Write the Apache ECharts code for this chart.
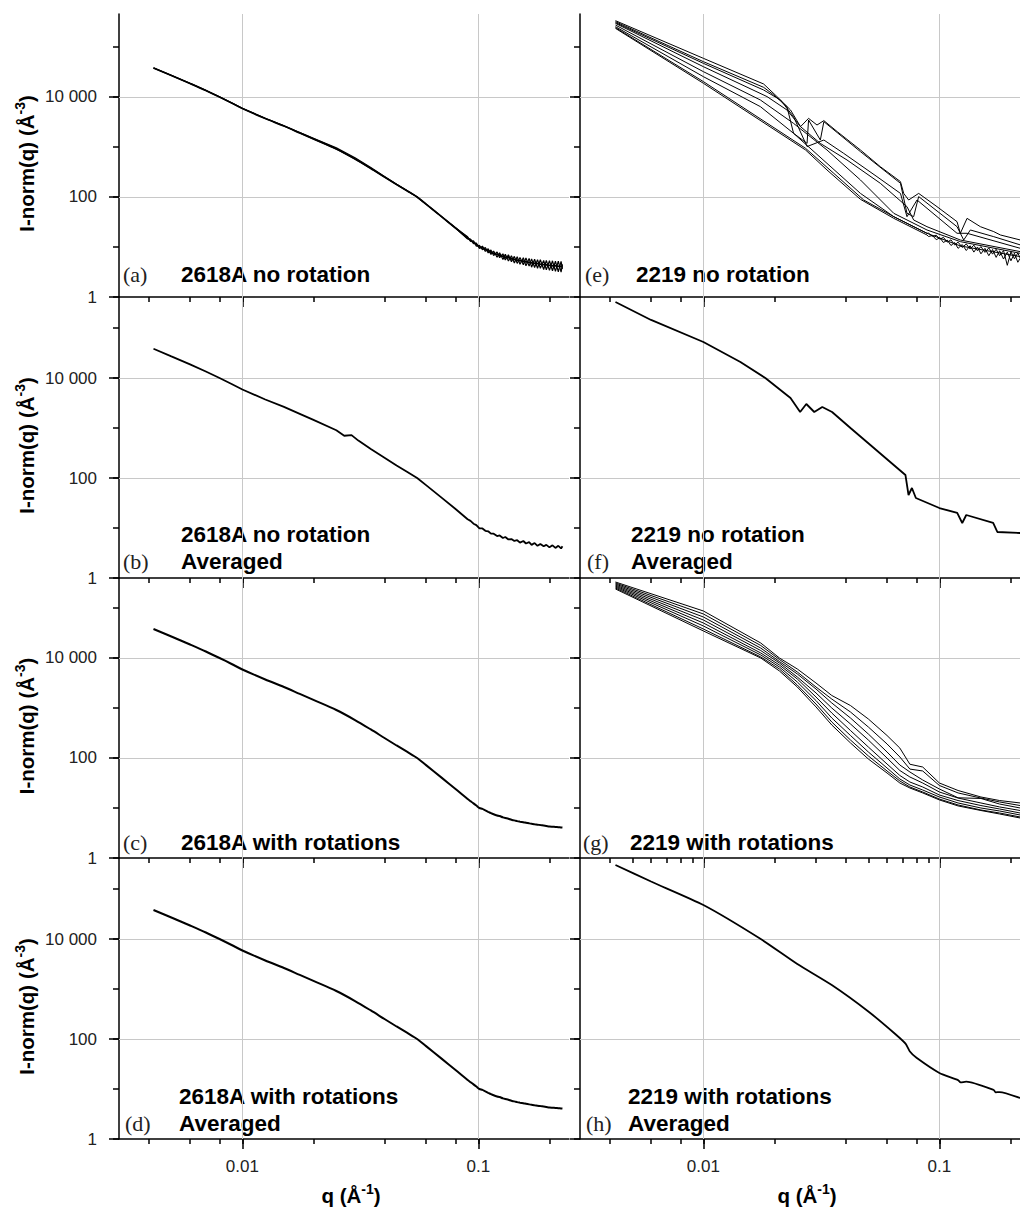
<!DOCTYPE html>
<html><head><meta charset="utf-8">
<script src="https://cdn.jsdelivr.net/npm/echarts@6/dist/echarts.min.js"></script>
<style>html,body{margin:0;padding:0;background:#fff}#c{width:1020px;height:1208px}</style>
</head><body><div id="c"></div>
<script>
// ---------- tick values ----------
const X_MAJOR = [0.01, 0.1];
const X_MINOR = [0.004, 0.006, 0.008, 0.02, 0.04, 0.06, 0.08, 0.2];
const X_MINOR_G = [0.004, 0.005, 0.006, 0.007, 0.008, 0.009, 0.02, 0.03, 0.04, 0.05, 0.06, 0.07, 0.08, 0.09, 0.2];
const Y_MAJOR = [1, 100, 10000];
const Y_MINOR = [10, 1000, 100000];
const PANEL_TAGS = ['(a)', '(b)', '(c)', '(d)', '(e)', '(f)', '(g)', '(h)'];
const PANEL_TITLES = [['2618A no rotation'], ['2618A no rotation', 'Averaged'], ['2618A with rotations'], ['2618A with rotations', 'Averaged'],
  ['2219 no rotation'], ['2219 no rotation', 'Averaged'], ['2219 with rotations'], ['2219 with rotations', 'Averaged']];

// ---------- 2618A data ----------
const QA_HEAD = [0.0042, 0.005, 0.006, 0.007, 0.008, 0.009, 0.01, 0.0125, 0.015, 0.0175, 0.02, 0.025, 0.03, 0.035, 0.04, 0.045, 0.05, 0.055, 0.06, 0.07, 0.08];
const IA_HEAD = [38000, 26900, 18600, 13500, 10000, 7590, 5890, 3720, 2630, 1910, 1450, 912, 575, 372, 251, 178, 132, 100, 72, 40, 24];
const IA_HEAD_VAR = [38500, 27200, 18800, 13600, 10100, 7650, 5950, 3760, 2660, 1950, 1500, 960, 610, 390, 258, 180, 133, 100, 72, 40, 24];
const QB_HEAD = [0.0042, 0.005, 0.006, 0.007, 0.008, 0.009, 0.01, 0.0125, 0.015, 0.0175, 0.02, 0.025, 0.027, 0.029, 0.031, 0.035, 0.04, 0.045, 0.05, 0.055, 0.06, 0.07, 0.08];
const IB_HEAD = [38500, 27000, 18700, 13500, 10000, 7600, 5900, 3720, 2640, 1920, 1450, 900, 700, 720, 560, 380, 255, 178, 132, 100, 72, 40, 24];
const QA_TAIL = [0.090, 0.0926, 0.0953, 0.098, 0.101, 0.104, 0.107, 0.110, 0.113, 0.116, 0.120, 0.123, 0.127, 0.130, 0.134, 0.138, 0.142, 0.146, 0.150, 0.155, 0.159, 0.164, 0.168, 0.173, 0.178, 0.183, 0.189, 0.194, 0.200, 0.206, 0.212, 0.218, 0.224, 0.227];
const IA_TAIL = [15.1, 13.7, 12.4, 11.2, 10.0, 9.6, 8.96, 8.4, 7.9, 7.5, 7.1, 6.9, 6.5, 6.3, 6.1, 5.8, 5.65, 5.46, 5.33, 5.19, 5.07, 4.93, 4.83, 4.73, 4.64, 4.55, 4.45, 4.37, 4.27, 4.22, 4.18, 4.13, 4.09, 4.07];
const IA_TAIL_N1 = [16.0, 12.9, 13.3, 10.4, 10.8, 8.8, 9.8, 7.6, 8.7, 6.75, 7.95, 6.1, 7.3, 5.5, 7.0, 5.05, 6.5, 4.7, 6.2, 4.4, 6.0, 4.15, 5.8, 3.9, 5.6, 3.75, 5.4, 3.5, 5.3, 3.35, 5.2, 3.2, 5.15, 3.65];
const IA_TAIL_N2 = [14.5, 14.4, 11.7, 12.0, 9.3, 10.4, 8.15, 9.25, 7.1, 8.3, 6.25, 7.7, 5.65, 7.2, 5.25, 6.7, 4.8, 6.4, 4.5, 6.1, 4.2, 5.9, 3.95, 5.7, 3.75, 5.55, 3.55, 5.4, 3.4, 5.3, 3.25, 5.2, 3.15, 4.5];
const IA_TAIL_N3 = [15.0, 13.9, 12.2, 11.4, 9.8, 9.8, 8.8, 8.6, 7.7, 7.7, 6.9, 7.1, 6.3, 6.6, 5.9, 6.0, 5.5, 5.7, 5.1, 5.5, 4.9, 5.2, 4.6, 5.0, 4.4, 4.8, 4.3, 4.6, 4.1, 4.5, 4.0, 4.4, 3.9, 4.3];

// ---------- 2219 no rotation (e) ----------
const E1_Q = [0.00424, 0.01, 0.018, 0.0205, 0.0234, 0.0258, 0.0279, 0.0303, 0.0324, 0.0369, 0.0463, 0.0562, 0.0684, 0.0706, 0.0741, 0.0817, 0.0977, 0.1188, 0.1227, 0.131, 0.1492, 0.17, 0.1814, 0.2204];
const E1_I = [336000, 59300, 18200, 10200, 5500, 2550, 3740, 2750, 3370, 2030, 871, 404, 203, 118, 87.1, 118, 64.1, 32.1, 18.8, 37.4, 25.5, 20.3, 17.4, 13.8];
const E2_Q = [0.00424, 0.01, 0.018, 0.01986, 0.0226, 0.0241, 0.0275, 0.0279, 0.0313, 0.0324, 0.0369, 0.0463, 0.0684, 0.0729, 0.0778, 0.0817, 0.1188, 0.1268, 0.1353, 0.17, 0.2204];
const E2_I = [321000, 50900, 15600, 11000, 6410, 1880, 1180, 3470, 1380, 3210, 1940, 807, 188, 47.1, 40.4, 102, 25.5, 13.8, 21.9, 16.1, 11.0];
const E3_Q = [0.00424, 0.01, 0.018, 0.0212, 0.0241, 0.0275, 0.0324, 0.0393, 0.0544, 0.0684, 0.0729, 0.0804, 0.1188, 0.131, 0.2204];
const E3_I = [307000, 47100, 13800, 8710, 4050, 1020, 1380, 747, 255, 118, 40.4, 87.1, 18.8, 18.8, 9.4];
const E4_Q = [0.00424, 0.01, 0.0186, 0.0226, 0.0258, 0.0313, 0.0406, 0.0562, 0.0729, 0.0778, 0.0886, 0.1227, 0.2204];
const E4_I = [297000, 40400, 10200, 5500, 2550, 1180, 550, 188, 64.1, 34.7, 25.5, 13.8, 8.07];
const E5_Q = [0.00424, 0.01, 0.01744, 0.0241, 0.0334, 0.0463, 0.0641, 0.0886, 0.1227, 0.2204];
const E5_I = [275000, 32100, 8710, 2970, 871, 219, 47.1, 21.9, 12.8, 7.47];
const E6_Q = [0.00424, 0.01, 0.01744, 0.0241, 0.0334, 0.0463, 0.0641, 0.0886];
const E6_I = [255000, 25500, 6410, 1880, 471, 118, 40.4, 18.8];
const E7_Q = [0.00424, 0.01, 0.0271, 0.0334, 0.0463, 0.0641, 0.0886];
const E7_I = [236000, 18800, 871, 347, 89.8, 37.4, 17.4];
const E8_Q = [0.00424, 0.01, 0.0271, 0.0357, 0.0478, 0.0641, 0.0886, 0.1227, 0.2204];
const E8_I = [244000, 20300, 940, 297, 87.1, 40.4, 18.8, 10.5, 6.41];
const QE_TAIL = [0.09, 0.0935, 0.097, 0.1005, 0.104, 0.108, 0.112, 0.116, 0.120, 0.125, 0.130, 0.135, 0.140, 0.145, 0.150, 0.156, 0.162, 0.168, 0.174, 0.180, 0.187, 0.194, 0.201, 0.208, 0.215, 0.22];
const E6_TAIL = [18.9, 16.3, 17.2, 14.3, 15.6, 12.5, 13.9, 11.0, 12.5, 9.8, 11.5, 9.1, 10.9, 8.4, 10.2, 7.8, 9.6, 7.2, 9.0, 6.7, 8.5, 4.3, 8.0, 5.8, 7.6, 6.0];
const E7_TAIL = [16.2, 17.0, 14.0, 15.3, 12.3, 13.7, 10.7, 12.3, 9.4, 11.2, 8.5, 10.6, 7.9, 10.0, 7.3, 9.4, 6.7, 8.9, 6.2, 8.4, 5.75, 7.9, 5.3, 7.5, 4.95, 5.95];

// ---------- 2219 no rotation averaged (f) ----------
const F_Q = [0.00424, 0.006, 0.01, 0.01435, 0.0183, 0.0234, 0.0257, 0.0273, 0.0295, 0.0319, 0.0351, 0.042, 0.051, 0.0619, 0.0718, 0.074, 0.0765, 0.0795, 0.1, 0.119, 0.125, 0.130, 0.169, 0.176, 0.22];
const F_I = [331000, 145000, 52500, 20900, 10000, 3980, 2090, 3020, 2090, 2630, 2090, 1000, 457, 209, 115, 45.7, 63.1, 39.8, 25.1, 20.0, 12.6, 18.2, 12.6, 8.32, 7.94];

// ---------- 2219 with rotations (g) ----------
const G_Q = [0.00424, 0.01, 0.0175, 0.021, 0.025, 0.03, 0.035, 0.042, 0.05, 0.06, 0.068, 0.075, 0.085, 0.1, 0.12, 0.15, 0.18, 0.22];
const G1_I = [331000, 87100, 19950, 10000, 6030, 3160, 1780, 1120, 603, 282, 158, 75, 66, 31.6, 22.4, 16.6, 14.1, 12.6];
const G2_I = [316000, 75900, 17800, 9330, 5250, 2630, 1510, 832, 417, 191, 105, 60, 55, 28.2, 20.0, 15.8, 13.2, 11.2];
const G3_I = [302000, 66100, 15800, 8510, 4790, 2400, 1260, 631, 302, 132, 72.4, 52.5, 36.3, 24.0, 16.0, 15.5, 12.0, 10.0];
const G4_I = [288000, 57500, 14100, 7940, 4170, 2000, 1000, 479, 229, 100, 56.2, 41.7, 31.6, 20.9, 15.8, 12.6, 10.5, 8.91];
const G5_I = [275000, 50100, 12600, 7240, 3800, 1660, 794, 355, 166, 75.9, 44.7, 33.1, 26.3, 18.2, 14.1, 11.2, 9.55, 7.94];
const G6_I = [263000, 43700, 11500, 6610, 3310, 1410, 631, 282, 132, 63.1, 38.0, 28.8, 22.9, 16.6, 12.6, 10.0, 8.71, 7.24];
const G7_I = [251000, 38000, 10500, 6030, 2880, 1200, 525, 229, 110, 55.0, 34.7, 26.3, 20.9, 15.1, 11.5, 9.12, 7.94, 6.61];
const G8_I = [240000, 34700, 10000, 5500, 2630, 1050, 457, 200, 95.5, 50.1, 31.6, 25.1, 20.0, 14.5, 11.0, 8.91, 7.59, 6.31];

// ---------- 2219 with rotations averaged (h) ----------
const H_Q = [0.00424, 0.006, 0.01, 0.0175, 0.025, 0.035, 0.05, 0.065, 0.072, 0.075, 0.08, 0.1, 0.12, 0.123, 0.13, 0.17, 0.173, 0.18, 0.22];
const H_I = [302000, 141000, 47900, 10000, 3160, 1200, 355, 126, 80, 56.2, 42, 20.9, 15.1, 13.6, 14.0, 9.55, 8.6, 8.7, 6.61];

// ---------- layout ----------
const ROW_TOP = [14, 297, 578, 858];
const ROW_H = [283, 281, 280, 281];
const Y_MAX = [457000, 417000, 398000, 417000];
const COL_LEFT = [119, 580];
const COL_W = [450, 440];
const X_MIN = 0.003;
const X_MAX = [0.242, 0.2196];

function zip(q, v) { return q.map((x, i) => [x, v[i]]); }

const grids = [], xAxes = [], yAxes = [], series = [], graphics = [];
const sansFont = 'Liberation Sans, Arial, sans-serif';
const serifFont = 'Liberation Serif, Times New Roman, serif';
const richName = {
  t: { fontFamily: sansFont, fontSize: 20.5, fontWeight: 'bold', color: '#000', lineHeight: 26 },
  s: { fontFamily: sansFont, fontSize: 14, fontWeight: 'bold', color: '#000', verticalAlign: 'top', lineHeight: 26 }
};

// axes 0..7: main axes (all ticks, short); axes 8..15: overlay axes (major ticks, long)
for (let p = 0; p < 8; p++) {
  const col = p < 4 ? 0 : 1, row = p % 4;
  grids.push({ left: COL_LEFT[col], top: ROW_TOP[row], width: COL_W[col], height: ROW_H[row] });
  const bottomRow = row === 3, leftCol = col === 0;
  xAxes.push({
    type: 'log', gridIndex: p, min: X_MIN, max: X_MAX[col], position: 'bottom',
    axisLine: { show: true, onZero: false, lineStyle: { color: '#000', width: 1.5 } },
    axisTick: { show: true, inside: false, length: 5, customValues: X_MAJOR.concat(p === 6 ? X_MINOR_G : X_MINOR), lineStyle: { color: '#000', width: 1.5 } },
    axisLabel: { show: bottomRow, customValues: X_MAJOR, color: '#222', fontFamily: sansFont, fontSize: 17, margin: 19,
      formatter: v => (v < 0.05 ? '0.01' : '0.1') },
    splitLine: { show: false },
    name: bottomRow ? '{t|q (Å}{s|-1}{t|)}' : '', nameLocation: 'middle', nameGap: 43,
    nameTextStyle: { padding: [0, 0, 0, 14], rich: richName }
  });
  yAxes.push({
    type: 'log', gridIndex: p, min: 1, max: Y_MAX[row], position: 'left',
    axisLine: { show: true, onZero: false, lineStyle: { color: '#000', width: 1.5 } },
    axisTick: { show: true, inside: false, length: 6, customValues: Y_MAJOR.concat(Y_MINOR), lineStyle: { color: '#000', width: 1.5 } },
    axisLabel: { show: leftCol, customValues: Y_MAJOR, color: '#222', fontFamily: sansFont, fontSize: 17, margin: 22,
      formatter: v => (v >= 10000 ? '10 000' : String(Math.round(v))) },
    splitLine: { show: false },
    name: leftCol ? '{t|I-norm(q) (Å}{s|-3}{t|)}' : '', nameLocation: 'middle', nameGap: 80,
    nameTextStyle: { padding: [0, 16, 0, 0], rich: richName }
  });
}
for (let p = 0; p < 8; p++) {
  const col = p < 4 ? 0 : 1, row = p % 4;
  xAxes.push({
    type: 'log', gridIndex: p, min: X_MIN, max: X_MAX[col], position: 'bottom', offset: 0,
    axisLine: { show: true, onZero: false, lineStyle: { color: 'rgba(0,0,0,0)', width: 1 } },
    axisTick: { show: true, inside: false, length: 10, customValues: X_MAJOR, lineStyle: { color: '#000', width: 1.5 } },
    axisLabel: { show: false }, splitLine: { show: false }
  });
  yAxes.push({
    type: 'log', gridIndex: p, min: 1, max: Y_MAX[row], position: 'left', offset: 0,
    axisLine: { show: true, onZero: false, lineStyle: { color: 'rgba(0,0,0,0)', width: 1 } },
    axisTick: { show: true, inside: false, length: 10, customValues: Y_MAJOR, lineStyle: { color: '#000', width: 1.5 } },
    axisLabel: { show: false }, splitLine: { show: false }
  });
  // an empty series keeps the overlay axes attached to data
  series.push({ type: 'line', xAxisIndex: 8 + p, yAxisIndex: 8 + p, data: [], silent: true, animation: false });
}

// light grid lines at the labelled values, placed through each panel's own axes
const GRID_MARKS = X_MAJOR.map(v => ({ xAxis: v })).concat(Y_MAJOR.filter(v => v > 1).map(v => ({ yAxis: v })));
const hasGrid = {};
function addLine(p, data, width, smooth) {
  const s = { type: 'line', xAxisIndex: p, yAxisIndex: p, data: data, showSymbol: false, symbol: 'none',
    smooth: smooth || false, lineStyle: { color: '#000', width: width }, animation: false, silent: true, z: 3 };
  if (!hasGrid[p]) {
    hasGrid[p] = true;
    s.markLine = { silent: true, symbol: 'none', z: 1, animation: false, label: { show: false },
      lineStyle: { color: '#c8c8c8', width: 1, type: 'solid' }, emphasis: { disabled: true }, data: GRID_MARKS };
  }
  series.push(s);
}

const QA_ALL = QA_HEAD.concat(QA_TAIL);
// (a)
addLine(0, zip(QA_ALL, IA_HEAD.concat(IA_TAIL_N1)), 1.2);
addLine(0, zip(QA_ALL, IA_HEAD_VAR.concat(IA_TAIL_N2)), 1.2);
addLine(0, zip(QA_ALL, IA_HEAD.concat(IA_TAIL)), 1.8, 0.3);
// (b)
addLine(1, zip(QB_HEAD.concat(QA_TAIL), IB_HEAD.concat(IA_TAIL_N3)), 1.8);
// (c)
addLine(2, zip(QA_ALL, IA_HEAD.concat(IA_TAIL)), 2, 0.3);
// (d)
addLine(3, zip(QA_ALL, IA_HEAD.concat(IA_TAIL)), 2, 0.3);
// (e)
[[E1_Q, E1_I], [E2_Q, E2_I], [E3_Q, E3_I], [E4_Q, E4_I], [E5_Q, E5_I],
 [E6_Q.concat(QE_TAIL), E6_I.concat(E6_TAIL)], [E7_Q.concat(QE_TAIL), E7_I.concat(E7_TAIL)], [E8_Q, E8_I]]
  .forEach(d => addLine(4, zip(d[0], d[1]), 1));
// (f)
addLine(5, zip(F_Q, F_I), 1.8);
// (g)
[G1_I, G2_I, G3_I, G4_I, G5_I, G6_I, G7_I, G8_I].forEach(v => addLine(6, zip(G_Q, v), 1));
// (h)
addLine(7, zip(H_Q, H_I), 1.8, 0.2);

// panel labels
const TAG_X = [123, 123, 123, 125, 585, 587, 583, 586];
const TITLE_X = [181, 181, 181, 179, 636, 631, 630, 628];
const LINE_Y = [[274.5], [534, 561], [842.5], [1096.5, 1123.5], [274.5], [534, 561], [842.5], [1096.5, 1123.5]];
for (let p = 0; p < 8; p++) {
  const ys = LINE_Y[p];
  graphics.push({ type: 'text', x: TAG_X[p], y: ys[ys.length - 1], silent: true,
    style: { text: PANEL_TAGS[p], font: '22px ' + serifFont, fill: '#222', textVerticalAlign: 'middle', verticalAlign: 'middle' } });
  PANEL_TITLES[p].forEach((t, i) => graphics.push({ type: 'text', x: TITLE_X[p], y: ys[i], silent: true,
    style: { text: t, font: 'bold 22.5px ' + sansFont, fill: '#000', textVerticalAlign: 'middle', verticalAlign: 'middle' } }));
}

const chart = echarts.init(document.getElementById('c'), null, { renderer: 'svg' });
chart.setOption({ backgroundColor: '#fff', animation: false, grid: grids, xAxis: xAxes, yAxis: yAxes, series: series, graphic: graphics });
</script></body></html>
